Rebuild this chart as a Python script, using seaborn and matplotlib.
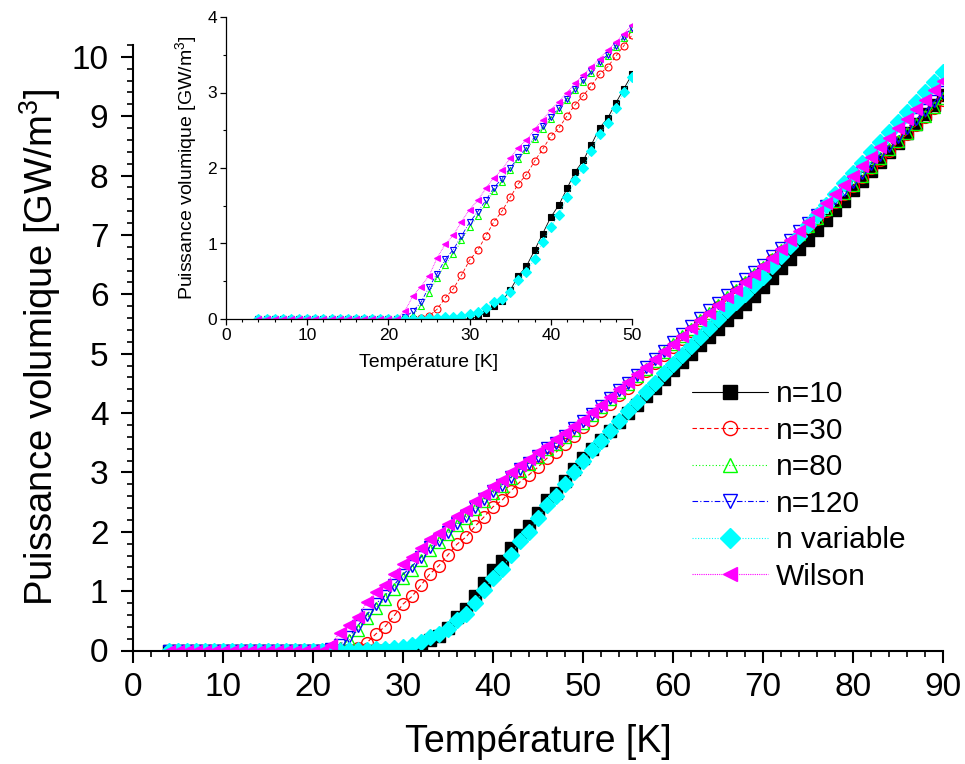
import numpy as np
import pandas as pd
import matplotlib
matplotlib.use("Agg")
import matplotlib.pyplot as plt
from matplotlib.ticker import MultipleLocator
import seaborn as sns

# ---------------- data ----------------
temperature = list(range(4, 91))
zeros_4_21 = [0.0] * 18

n10 = zeros_4_21 + [0.0, 0.0, 0.0, 0.0, 0.0, 0.0, 0.0, 0.0, 0.0,
       0.03, 0.08, 0.17, 0.24, 0.38, 0.57, 0.70, 0.91, 1.13, 1.35,
       1.51, 1.73, 1.95, 2.10, 2.31, 2.53, 2.66, 2.86, 3.05, 3.24,
       3.40, 3.55, 3.70, 3.85, 4.00, 4.14, 4.29, 4.43, 4.58, 4.72,
       4.86, 5.00, 5.14, 5.28, 5.42, 5.56, 5.70, 5.84, 5.98, 6.12,
       6.28, 6.44, 6.60, 6.76, 6.92, 7.09, 7.25, 7.42, 7.58, 7.75,
       7.91, 8.07, 8.23, 8.39, 8.55, 8.71, 8.87, 9.03, 9.19, 9.35]

n30 = zeros_4_21 + [0.0, 0.0, 0.01, 0.04, 0.13, 0.28, 0.40, 0.58, 0.78,
       0.91, 1.10, 1.29, 1.43, 1.61, 1.79, 1.91, 2.09, 2.25, 2.42,
       2.53, 2.69, 2.84, 2.96, 3.09, 3.24, 3.34, 3.48, 3.62, 3.76,
       3.89, 4.03, 4.16, 4.30, 4.43, 4.57, 4.70, 4.84, 4.97, 5.11,
       5.24, 5.38, 5.51, 5.64, 5.78, 5.91, 6.04, 6.17, 6.30, 6.43,
       6.57, 6.71, 6.85, 6.99, 7.13, 7.27, 7.41, 7.55, 7.69, 7.83,
       7.98, 8.12, 8.27, 8.41, 8.56, 8.70, 8.85, 8.99, 9.14, 9.28]

n80 = zeros_4_21 + [0.0, 0.05, 0.17, 0.35, 0.54, 0.72, 0.86, 1.04, 1.22,
       1.36, 1.52, 1.70, 1.82, 1.97, 2.12, 2.24, 2.38, 2.52, 2.65,
       2.77, 2.90, 3.03, 3.14, 3.26, 3.39, 3.48, 3.60, 3.72, 3.84,
       3.97, 4.10, 4.23, 4.36, 4.49, 4.62, 4.75, 4.88, 5.02, 5.16,
       5.29, 5.42, 5.56, 5.69, 5.82, 5.95, 6.08, 6.21, 6.34, 6.46,
       6.60, 6.74, 6.88, 7.02, 7.15, 7.29, 7.43, 7.57, 7.71, 7.85,
       8.00, 8.15, 8.29, 8.44, 8.58, 8.72, 8.87, 9.01, 9.16, 9.31]

n120 = zeros_4_21 + [0.02, 0.10, 0.22, 0.42, 0.60, 0.79, 0.92, 1.10, 1.28,
        1.42, 1.57, 1.74, 1.86, 2.00, 2.14, 2.27, 2.41, 2.55, 2.68,
        2.79, 2.92, 3.05, 3.16, 3.28, 3.41, 3.50, 3.62, 3.74, 3.86,
        3.99, 4.12, 4.25, 4.38, 4.51, 4.64, 4.78, 4.91, 5.05, 5.19,
        5.33, 5.46, 5.60, 5.73, 5.86, 5.99, 6.12, 6.25, 6.38, 6.50,
        6.64, 6.78, 6.92, 7.06, 7.20, 7.34, 7.48, 7.62, 7.76, 7.90,
        8.05, 8.20, 8.35, 8.50, 8.65, 8.80, 8.95, 9.10, 9.25, 9.41]

n_variable = zeros_4_21 + [0.0, 0.0, 0.005, 0.01, 0.015, 0.02, 0.03, 0.04, 0.06,
              0.09, 0.15, 0.22, 0.27, 0.36, 0.51, 0.62, 0.80, 1.02, 1.22,
              1.38, 1.61, 1.84, 2.00, 2.23, 2.45, 2.60, 2.80, 3.01, 3.20,
              3.37, 3.53, 3.70, 3.86, 4.03, 4.19, 4.35, 4.51, 4.67, 4.83,
              4.98, 5.13, 5.28, 5.43, 5.58, 5.73, 5.87, 6.01, 6.16, 6.30,
              6.47, 6.64, 6.81, 6.98, 7.16, 7.33, 7.51, 7.69, 7.87, 8.05,
              8.22, 8.39, 8.56, 8.73, 8.90, 9.07, 9.24, 9.41, 9.58, 9.75]

wilson = zeros_4_21 + [0.10, 0.30, 0.43, 0.57, 0.81, 0.99, 1.11, 1.29, 1.45,
          1.57, 1.73, 1.87, 1.98, 2.13, 2.27, 2.37, 2.51, 2.64, 2.77,
          2.88, 3.00, 3.12, 3.23, 3.34, 3.45, 3.56, 3.67, 3.78, 3.89,
          4.02, 4.14, 4.27, 4.40, 4.52, 4.65, 4.78, 4.91, 5.04, 5.17,
          5.30, 5.43, 5.56, 5.69, 5.82, 5.95, 6.08, 6.21, 6.34, 6.47,
          6.62, 6.77, 6.92, 7.07, 7.22, 7.38, 7.53, 7.69, 7.84, 8.00,
          8.16, 8.32, 8.48, 8.64, 8.80, 8.96, 9.12, 9.28, 9.44, 9.60]

labels = ["n=10", "n=30", "n=80", "n=120", "n variable", "Wilson"]
series = [n10, n30, n80, n120, n_variable, wilson]

df = pd.DataFrame({"T": temperature})
for lab, vals in zip(labels, series):
    df[lab] = vals

# ---------------- styles ----------------
styles = {
    "n=10":       dict(color="black",   marker="s", mfc="black",   ls="-"),
    "n=30":       dict(color="#FF0000", marker="o", mfc="none",    ls=(0, (4, 2.5))),
    "n=80":       dict(color="#00FF00", marker="^", mfc="none",    ls=(0, (1, 2))),
    "n=120":      dict(color="#0000FF", marker="v", mfc="none",    ls=(0, (5, 2, 1, 2))),
    "n variable": dict(color="#00FFFF", marker="D", mfc="#00FFFF", ls=(0, (1, 1.5))),
    "Wilson":     dict(color="#FF00FF", marker="<", mfc="#FF00FF", ls=(0, (1, 1))),
}

sns.set_theme(style="ticks")
plt.rcParams["font.family"] = ["Liberation Sans", "DejaVu Sans"]
plt.rcParams["mathtext.fontset"] = "custom"
plt.rcParams["mathtext.rm"] = "Liberation Sans"
plt.rcParams["mathtext.it"] = "Liberation Sans:italic"
plt.rcParams["text.color"] = "black"
plt.rcParams["axes.labelcolor"] = "black"
plt.rcParams["xtick.color"] = "black"
plt.rcParams["ytick.color"] = "black"

W, H = 965, 764
fig = plt.figure(figsize=(W / 100, H / 100), dpi=100)

# main axes (pixel box)
mx0, mx1, my_top, my_bot = 132.7, 943.3, 45.0, 650.5
ax = fig.add_axes([mx0 / W, (H - my_bot) / H, (mx1 - mx0) / W, (my_bot - my_top) / H])

def draw(axis, ms, lw, mew, with_label):
    for lab in labels:
        st = styles[lab]
        sns.lineplot(data=df, x="T", y=lab, ax=axis, color=st["color"],
                     marker=st["marker"], markersize=ms,
                     markerfacecolor=st["mfc"], markeredgecolor=st["color"],
                     markeredgewidth=mew, linestyle=st["ls"], linewidth=lw,
                     label=lab if with_label else None, estimator=None,
                     errorbar=None, legend=False)

draw(ax, 8.5, 0.8, 1.0, True)

ax.set_xlim(0, 90)
ax.set_ylim(0, 10.2)
ax.xaxis.set_major_locator(MultipleLocator(10))
ax.xaxis.set_minor_locator(MultipleLocator(2))
ax.yaxis.set_major_locator(MultipleLocator(1))
ax.yaxis.set_minor_locator(MultipleLocator(0.2))
for s in ["top", "right"]:
    ax.spines[s].set_visible(False)
for s in ["left", "bottom"]:
    ax.spines[s].set_linewidth(1.5)
    ax.spines[s].set_color("black")
ax.tick_params(which="major", direction="out", length=8.5, width=1.5,
               labelsize=24, colors="black")
ax.tick_params(axis="x", which="major", pad=7)
ax.tick_params(axis="y", which="major", pad=9)
ax.tick_params(which="minor", direction="out", length=4.5, width=1.2, colors="black")
ax.set_xlabel("Température [K]", fontsize=27, labelpad=15, color="black")
ax.set_ylabel("Puissance volumique [GW/m$^3$]", fontsize=27.5, labelpad=6, color="black")
ax.grid(False)

handles, labs = ax.get_legend_handles_labels()
leg = ax.legend(handles, labs, loc="upper left", bbox_to_anchor=(692 / W, (H - 380) / H),
                bbox_transform=fig.transFigure, frameon=False, fontsize=21.5,
                handlelength=2.55, handletextpad=0.25, labelspacing=0.285,
                borderpad=0, borderaxespad=0, markerscale=1.2)
for t in leg.get_texts():
    t.set_color("black")

# inset axes
ix0, ix1, iy_top, iy_bot = 226.0, 632.0, 17.0, 319.0
ins = fig.add_axes([ix0 / W, (H - iy_bot) / H, (ix1 - ix0) / W, (iy_bot - iy_top) / H])
ins.set_facecolor("none")
draw(ins, 5, 0.6, 0.8, False)
ins.set_xlim(0, 50)
ins.set_ylim(0, 4)
ins.xaxis.set_major_locator(MultipleLocator(10))
ins.xaxis.set_minor_locator(MultipleLocator(2))
ins.yaxis.set_major_locator(MultipleLocator(1))
ins.yaxis.set_minor_locator(MultipleLocator(0.5))
for s in ["top", "right"]:
    ins.spines[s].set_visible(False)
for s in ["left", "bottom"]:
    ins.spines[s].set_linewidth(0.9)
    ins.spines[s].set_color("black")
ins.tick_params(which="major", direction="out", length=4.5, width=0.9,
                labelsize=12.5, colors="black", pad=2)
ins.tick_params(which="minor", direction="out", length=2.5, width=0.8, colors="black")
ins.set_xlabel("Température [K]", fontsize=14, labelpad=8, color="black")
ins.set_ylabel("Puissance volumique [GW/m$^3$]", fontsize=14, labelpad=6, color="black")
ins.grid(False)

fig.savefig("out.png", dpi=100)
